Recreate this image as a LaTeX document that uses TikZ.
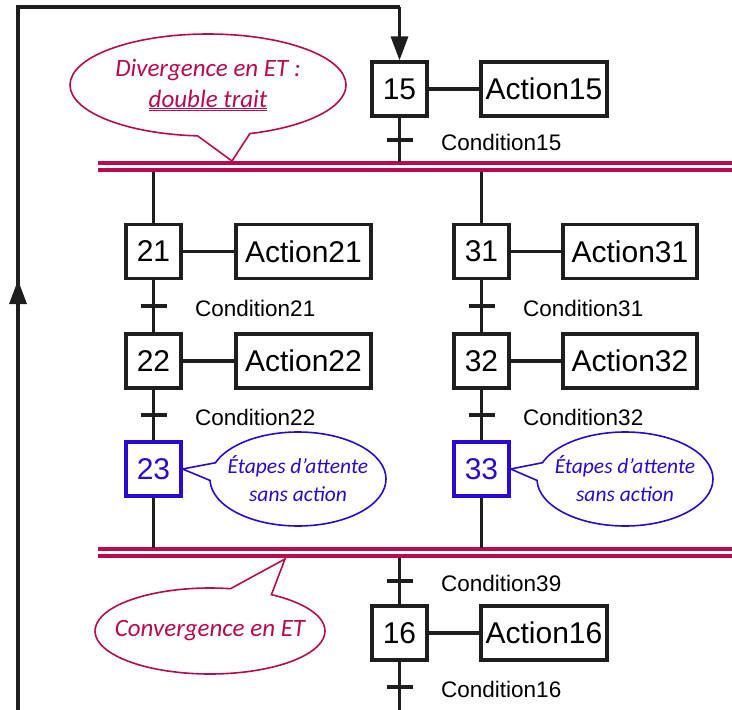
\documentclass[tikz,border=0pt]{standalone}
\usepackage{fontspec}
\setmainfont{Liberation Sans}
\newfontfamily\notefont{Carlito}
\usetikzlibrary{arrows.meta,positioning,shapes.callouts}

\definecolor{etred}{RGB}{185,10,80}
\definecolor{waitblue}{RGB}{40,10,210}
\definecolor{trait}{RGB}{30,30,30}

\tikzset{
  etape/.style={draw=trait, line width=3.2pt, minimum width=55pt, minimum height=54pt,
    inner sep=0pt, font=\fontsize{30}{34}\selectfont},
  attente/.style={etape, draw=waitblue, text=waitblue},
  actionbox/.style={draw=trait, line width=3.2pt, minimum height=54pt, inner sep=0pt,
    font=\fontsize{30}{34}\selectfont},
  liaison/.style={draw=trait, line width=3.2pt},
  cond/.style={anchor=west, inner sep=0pt, font=\fontsize{22.5}{26}\selectfont},
  doubletrait/.style={draw=etred, line width=3.2pt},
  bulle/.style={ellipse callout, draw, line width=1.6pt, fill=white, inner ysep=4pt,
    callout pointer arc=22, align=center, font=\notefont\itshape\fontsize{25}{31}\selectfont},
  bulleattente/.style={bulle, draw=waitblue, text=waitblue, inner xsep=-14pt,
    minimum width=176pt, minimum height=94pt,
    font=\notefont\itshape\fontsize{21.5}{28}\selectfont},
}

\begin{document}
\begin{tikzpicture}[x=1pt,y=-1pt]
        \useasboundingbox (0,0) rectangle (732,710);

        % Etape initiale de la sequence
        \node[etape] (E15) at (399.5,89) {15};
        \node[actionbox, minimum width=126pt] (A15) at (544,89) {Action15};
        \draw[liaison] (E15) -- (A15);

        % Divergence en ET (double trait)
        \coordinate (Div1) at (98,163);
        \coordinate (Div2) at (98,170);
        \draw[doubletrait] (Div1) -- (732,163);
        \draw[doubletrait] (Div2) -- (732,170);

        % Branche de gauche
        \node[etape] (E21) at (153.5,251.5) {21};
        \node[actionbox, minimum width=135pt] (A21) at (303.5,251.5) {Action21};
        \node[etape] (E22) at (153.5,361) {22};
        \node[actionbox, minimum width=135pt] (A22) at (303.5,361) {Action22};
        \node[attente] (E23) at (153.5,469) {23};

        % Branche de droite
        \node[etape] (E31) at (481.5,251.5) {31};
        \node[actionbox, minimum width=134pt] (A31) at (630,251.5) {Action31};
        \node[etape] (E32) at (481.5,361) {32};
        \node[actionbox, minimum width=134pt] (A32) at (630,361) {Action32};
        \node[attente] (E33) at (481.5,469) {33};

        \draw[liaison] (E21) -- (A21);
        \draw[liaison] (E22) -- (A22);
        \draw[liaison] (E31) -- (A31);
        \draw[liaison] (E32) -- (A32);

        % Convergence en ET
        \coordinate (Conv1) at (98,549);
        \coordinate (Conv2) at (98,556);
        \draw[doubletrait] (Conv1) -- (732,549);
        \draw[doubletrait] (Conv2) -- (732,556);

        % Etape apres la convergence
        \node[etape] (E16) at (399.5,633) {16};
        \node[actionbox, minimum width=126pt] (A16) at (544,633) {Action16};
        \draw[liaison] (E16) -- (A16);

        % Liaisons verticales
        \draw[liaison] (E15.south) -- (399.5,161.5);
        \draw[liaison] (153.5,171.5) -- (E21.north);
        \draw[liaison] (481.5,171.5) -- (E31.north);
        \draw[liaison] (E21) -- (E22);
        \draw[liaison] (E31) -- (E32);
        \draw[liaison] (E22) -- (E23);
        \draw[liaison] (E32) -- (E33);
        \draw[liaison] (E23.south) -- (153.5,547.5);
        \draw[liaison] (E33.south) -- (481.5,547.5);
        \draw[liaison] (399.5,557.5) -- (E16.north);
        \draw[liaison] (E16.south) -- (399.5,710);

        % Transitions (receptivites)
        \foreach \x/\y/\c in {399.5/140/15, 153.5/306/21, 153.5/415/22,
                              481.5/306/31, 481.5/415/32, 399.5/581/39, 399.5/687/16}
          {\draw[liaison] (\x-13,\y) -- (\x+13,\y);
           \node[cond] (C\c) at (\x+41.5,\y+2) {Condition\c};}

        % Retour vers l'etape 15
        \coordinate (R0) at (18,710);
        \coordinate (R1) at (18,7);
        \coordinate (R2) at (399.5,7);
        \draw[liaison] (R0) -- (R1) -- (R2);
        \draw[liaison, -{Triangle[length=24pt,width=17pt]}] (R2) -- (E15.north);
        \draw[liaison, -{Triangle[length=24pt,width=17pt]}] (R0) -- (18,280);

        % Bulles de commentaires
        \node[bulle, draw=etred, text=etred, inner xsep=-16pt, minimum width=276pt,
              minimum height=102pt, callout absolute pointer={(232,161)}] (Bdiv) at (208,85)
              {Divergence en ET :\\\underline{\underline{double trait}}};
        \node[bulle, draw=etred, text=etred, inner xsep=-28pt, minimum width=230pt,
              minimum height=86pt, callout absolute pointer={(285,559)}] (Bconv) at (210,631)
              {Convergence en ET};
        \node[bulleattente, callout absolute pointer={(E23.east)}] (B23) at (298,479)
              {Étapes d’attente\\sans action};
        \node[bulleattente, callout absolute pointer={(E33.east)}] (B33) at (625,479)
              {Étapes d’attente\\sans action};

    \end{tikzpicture}
\end{document}
